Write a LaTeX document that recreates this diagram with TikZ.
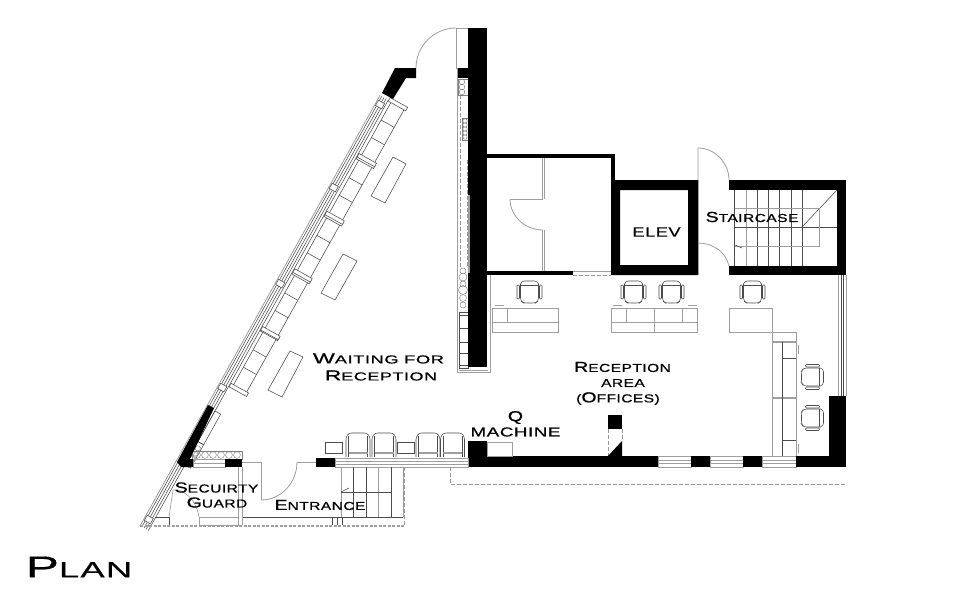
\documentclass[tikz,border=0pt]{standalone}
\usepackage{fontspec}
\newfontfamily\planfont[FakeStretch=1.35,LetterSpace=4,FakeBold=0.7]{Liberation Sans}
\newfontfamily\titlefont[FakeStretch=1.35,LetterSpace=4,FakeBold=0.25]{Liberation Sans}
\newcommand{\caplet}[2]{{\fontsize{14.5}{14.5}\selectfont #1}{\fontsize{11.5}{11.5}\selectfont #2}}
\tikzset{
  thinline/.style={draw=black!70, line width=0.55pt},
  grayline/.style={draw=black!38, line width=0.8pt},
  stoneline/.style={draw=black!50, line width=0.45pt},
  dashline/.style={draw=black!40, line width=0.6pt, dash pattern=on 4pt off 2pt},
  solidwall/.style={fill=black, draw=none},
  roomlabel/.style={font=\planfont, text=black, inner sep=0pt, align=center},
  pics/officechair/.style={code={
    \draw[thinline, rounded corners=3pt] (-9,-8) -- (-9,9) -- (-6,11) -- (6,11) -- (9,9) -- (9,-8);
    \draw[thinline, rounded corners=3pt] (-9,-8) -- (-8,-11) -- (8,-11) -- (9,-8);
    \draw[thinline] (-9,-7) -- (9,-7);
    \draw[thinline, rounded corners=1pt] (-12.5,-7) rectangle (-10,7);
    \draw[thinline, rounded corners=1pt] (10,-7) rectangle (12.5,7);
  }},
  pics/rowchair/.style={code={
    \draw[thinline, rounded corners=2.5pt] (-12,12) -- (-12,-8) -- (-9,-12) -- (9,-12) -- (12,-8) -- (12,12);
    \draw[thinline] (-9.5,12) -- (-9.5,-9) (9.5,12) -- (9.5,-9);
    \draw[grayline, line width=1.2pt] (-9.5,8) -- (9.5,8);
  }},
}
\begin{document}
\begin{tikzpicture}[x=1pt,y=-1pt]
\useasboundingbox[fill=white] (0,0) rectangle (980,600);

\begin{scope}[shift={(140,526)},rotate=60.87]
\draw[grayline] (0,0) -- (493,0);
\foreach \v in {2,4.5,7,9.5} \draw[thinline] (0,\v) -- (493,\v);
\foreach \u in {10,161,280,390,485}
  \draw[thinline,fill=white] (\u-3,1) rectangle (\u+3,8);
\foreach \u in {168,233,299,365,431} {
  \draw[thinline] (\u,13) rectangle (\u+62,28);
  \draw[thinline] (\u+21,13) -- (\u+21,28) (\u+41,13) -- (\u+41,28);
  \draw[thinline,fill=white] (\u-3,10) rectangle (\u+1,30);
  \draw[thinline,fill=white] (\u+61,10) rectangle (\u+65,30);
}
\draw[thinline] (102,9.5) rectangle (137,16);
\draw[thinline] (75,9.5) rectangle (102,16);
\foreach \u in {78,84,90,96} \draw[stoneline] (\u,12.7) circle (2.6pt);
\end{scope}

\draw[thinline] (393,157) -- (406,164) -- (385,203) -- (371,196) -- cycle;
\draw[thinline] (343,254) -- (357,261) -- (335,300) -- (321,293) -- cycle;
\draw[thinline] (290,351) -- (303,357) -- (282,397) -- (268,390) -- cycle;

\draw[grayline] (456,28) rectangle (468,68);
\draw[grayline] (456,28) .. controls (434,28) and (416,46) .. (416,68);
\draw[grayline] (457,68) -- (457,372) -- (490,372) -- (490,275);
\draw[grayline] (459,370) -- (488,370);
\draw[dashline] (460,95) -- (460,267);
\draw[dashline] (467,160) -- (467,267);
\draw[stoneline] (458,79) rectangle (468,95);
\foreach \sy in {82,87,92} \draw[stoneline] (463-1,\sy) circle (2.8pt);
\draw[stoneline] (462,118) rectangle (468,140);
\foreach \sy in {121,125,...,139} \draw[stoneline] (465,\sy) circle (2.2pt);
\foreach \sy/\sr in {271/3,277/4,284/3,290/4.5,298/3.5,305/3} \draw[stoneline] (463,\sy) circle (\sr pt);
\draw[thinline] (459,312) rectangle (468,368);
\foreach \sy in {315,328,342,353,365} \draw[thinline] (459,\sy) -- (468,\sy);

\fill[solidwall] (468,28) rectangle (487,367);
\draw[grayline, line width=1.6pt] (469,195) -- (469,273);
\fill[solidwall] (458,68) rectangle (468,78);
\fill[solidwall] (395,68) -- (416,68) -- (416,78) -- (406,78) -- (393,99) -- (382,93) -- cycle;

\fill[solidwall] (487,154) rectangle (615,158);
\fill[solidwall] (611,154) rectangle (615,180);
\fill[solidwall] (487,271) rectangle (573,275);
\draw[grayline] (573,271) -- (611,271);
\draw[dashline] (573,275) -- (611,275);
\fill[solidwall, even odd rule] (611,180) rectangle (698,275) (620,190) rectangle (688,265);
\draw[grayline] (698,180) -- (698,275);

\draw[grayline] (542,158) -- (542,199) -- (510,199);
\draw[grayline] (544,158) -- (544,199);
\draw[grayline] (510,199) .. controls (510,216) and (525,230) .. (543,230);
\draw[grayline] (542,230) -- (542,271) (544,230) -- (544,271);

\draw[grayline] (698,180) -- (698,148) .. controls (715,148) and (729,163) .. (729,180);
\draw[grayline] (698,243) .. controls (713,243) and (726,252) .. (729,266);

\foreach \tx in {734,757,768,779,791,802} \draw[thinline] (\tx,190) -- (\tx,266);
\draw[grayline] (746,190) -- (746,266);
\draw[thinline] (734,227) -- (837,227);
\draw[thinline] (802,227) -- (837,190);
\draw[grayline, line width=0.6pt] (735,208) -- (819,208) -- (819,246) -- (735,246);
\draw[thinline] (735,245) -- (742,248);
\fill[solidwall] (729,180) rectangle (846,190);
\fill[solidwall] (837,180) rectangle (846,275);
\fill[solidwall] (729,266) rectangle (846,275);

\draw[grayline] (846,275) -- (846,396) (838,275) -- (838,396);
\draw[thinline] (841,275) -- (841,396) (843,275) -- (843,396);
\fill[solidwall] (829,396) rectangle (846,467);

\draw[grayline] (492,308) rectangle (558,332);
\draw[grayline, line width=0.6pt] (492,322) -- (558,322);
\draw[grayline, line width=0.6pt] (507,308) -- (507,322);
\draw[grayline] (611,308) rectangle (654,332);
\draw[grayline, line width=0.6pt] (611,322) -- (654,322) (626,308) -- (626,322);
\draw[grayline] (654,308) rectangle (697,332);
\draw[grayline, line width=0.6pt] (654,322) -- (697,322) (682,308) -- (682,322);
\draw[grayline] (729,308) rectangle (772,332);
\draw[grayline] (772,332) -- (796,332) -- (796,456);
\draw[grayline] (772,332) -- (772,456);
\draw[grayline, line width=1.4pt] (772,342) -- (796,342) (772,398) -- (796,398);
\draw[thinline] (782,342) -- (782,456) (782,358) -- (796,358) (782,440) -- (796,440);
\draw[grayline, line width=0.6pt] (798,345) -- (798,354) (798,444) -- (798,453);
\foreach \mx in {495,613,688} \draw[grayline, line width=0.6pt] (\mx,305) -- (\mx+9,305);

\pic at (529.5,292) {officechair};
\pic at (633.5,292) {officechair};
\pic at (671.5,292) {officechair};
\pic at (752.5,292) {officechair};
\pic[rotate=-90] at (812.5,377) {officechair};
\pic[rotate=-90] at (812.5,418) {officechair};

\fill[solidwall] (468,441) rectangle (487,467);
\fill[solidwall] (468,456) rectangle (658,467);
\draw[grayline] (487,442) rectangle (512,456);
\foreach \wx/\wy in {658/691,710/743,762/796} {
  \draw[grayline] (\wx,456) rectangle (\wy,467);
  \draw[grayline] (\wx,460) -- (\wy,460) (\wx,463) -- (\wy,463);
}
\fill[solidwall] (691,456) rectangle (710,467);
\fill[solidwall] (743,456) rectangle (762,467);
\fill[solidwall] (796,456) rectangle (846,467);
\fill[solidwall] (608,415) rectangle (622,429);
\draw[dashline] (608,429) -- (608,456) (622,429) -- (622,441);
\fill[solidwall] (608,456) -- (622,441) -- (622,456) -- cycle;

\draw[dashline] (450,467) -- (450,484) -- (845,484);

\draw[grayline] (335,458) rectangle (468,467);
\draw[grayline] (335,461) -- (468,461) (335,464) -- (468,464);
\pic at (358,445) {rowchair};
\pic at (384,445) {rowchair};
\pic at (428,445) {rowchair};
\pic at (452.5,445) {rowchair};
\draw[thinline] (325,442) rectangle (342,453);
\draw[thinline] (397,442) rectangle (414,453);
\fill[solidwall] (316,458) rectangle (335,467);

\draw[grayline] (242,462) -- (261,462) -- (261,500);
\draw[grayline] (316,462) -- (297,462);
\draw[grayline] (297,462) .. controls (297,483) and (281,500) .. (261,500);

\draw[grayline] (341,467) -- (341,517) (378,467) -- (378,517);
\foreach \tx in {353,366,391} \draw[thinline] (\tx,467) -- (\tx,517);
\draw[grayline] (403,467) -- (403,517);
\draw[thinline] (341,492) -- (391,492);
\draw[thinline] (341,492) -- (349,488);
\draw[thinline] (242,517) -- (403,517);
\draw[dashline] (404.5,467) -- (404.5,526);
\draw[thinline] (332,517) -- (332,525) (337,517) -- (337,525) (342,517) -- (342,525);
\draw[black!38, line width=1.4pt, dash pattern=on 3pt off 1.5pt] (140,526) -- (404,526);

\draw[stoneline] (192,451) rectangle (242,459);
\foreach \sx in {197,205,...,237} \draw[stoneline] (\sx,455) circle (3.4pt);
\draw[grayline] (193,459) rectangle (225,467);
\draw[grayline] (193,463) -- (225,463);
\fill[solidwall] (208,405) -- (214,408) -- (190,459) -- (193,459) -- (193,467) -- (181,467) -- (177,462) -- cycle;
\fill[solidwall] (225,459) rectangle (242,467);
\draw[grayline] (238,467) -- (238,525) (242,467) -- (242,525);
\draw[thinline] (155,517) -- (169,517) (199,517) -- (238,517);
\draw[thinline] (169,517) -- (169,525) (199,517) -- (199,525);
\draw[grayline] (199,517) rectangle (238,525);
\draw[grayline, line width=0.6pt] (169,517) -- (173,490) -- (178,490);
\draw[grayline, line width=0.6pt] (178,490) .. controls (189,493) and (197,504) .. (199,517);

\node[roomlabel, xscale=1.18] (waiting) at (378.5,358.5) {\caplet{W}{AITING FOR}};
\node[roomlabel, xscale=1.16] (reception) at (381,375.5) {\caplet{R}{ECEPTION}};
\node[roomlabel] (recarea) at (622.5,367) {\caplet{R}{ECEPTION}};
\node[roomlabel] (area) at (623,383) {\fontsize{11.5}{11.5}\selectfont AREA};
\node[roomlabel] (offices) at (618,398.5) {\caplet{}{(}\caplet{O}{FFICES)}};
\node[roomlabel] (qmark) at (515.5,417.5) {\fontsize{14.5}{14.5}\selectfont Q};
\node[roomlabel, xscale=1.07] (machine) at (515.5,432) {\fontsize{13}{13}\selectfont MACHINE};
\node[roomlabel] (staircase) at (752,217) {\caplet{S}{TAIRCASE}};
\node[roomlabel] (elev) at (656.5,232) {\fontsize{13.5}{13.5}\selectfont ELEV};
\node[roomlabel] (security) at (216.5,487.5) {\caplet{S}{ECUIRTY}};
\node[roomlabel] (guard) at (217,502.5) {\caplet{G}{UARD}};
\node[roomlabel] (entrance) at (320,505) {\caplet{E}{NTRANCE}};
\node[roomlabel, xscale=1.23, font=\titlefont\fontsize{30}{30}\selectfont] (plan) at (79,567) {P{\fontsize{22}{22}\selectfont LAN}};
\end{tikzpicture}
\end{document}
